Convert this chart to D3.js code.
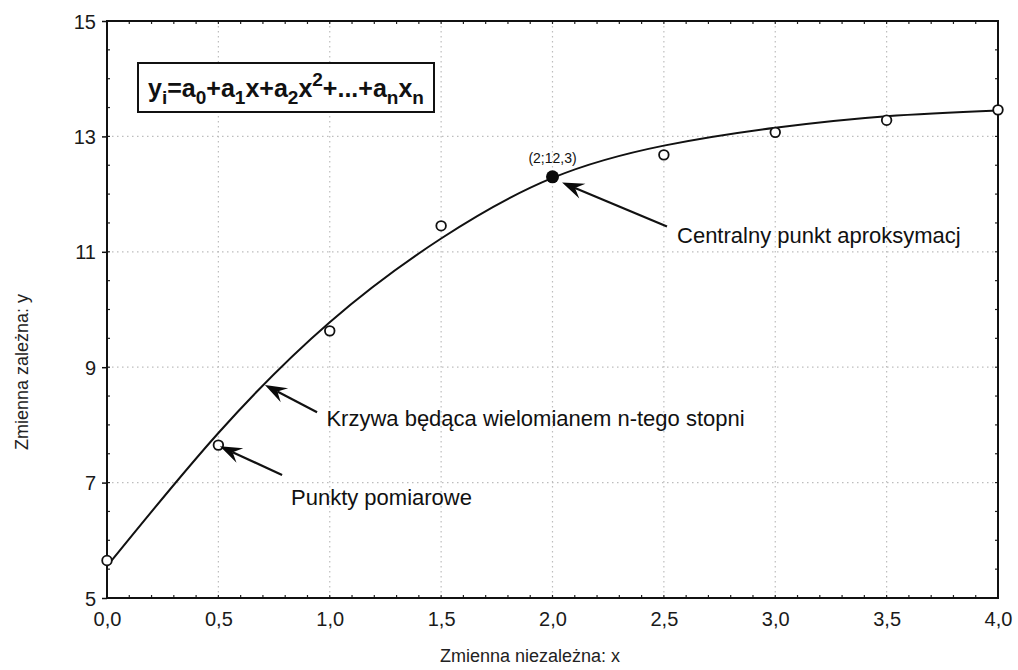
<!DOCTYPE html>
<html>
<head>
<meta charset="utf-8">
<script src="https://cdn.jsdelivr.net/npm/d3@7/dist/d3.min.js"></script>
<style>
  html, body { margin: 0; padding: 0; background: #fff; }
  svg { display: block; font-family: "Liberation Sans", Arial, sans-serif; }
</style>
</head>
<body>
<svg id="chart" width="1018" height="670"></svg>
<script>
// Fitted polynomial curve, sampled along x
const curveX = [0, 0.5, 1.0, 1.5, 2.0, 2.5, 3.0, 3.5, 4.0];
const curveY = [5.55, 7.86, 9.78, 11.23, 12.28, 12.84, 13.15, 13.35, 13.45];

// Measurement points
const pointX = [0, 0.5, 1.0, 1.5, 2.5, 3.0, 3.5, 4.0];
const pointY = [5.65, 7.65, 9.63, 11.45, 12.68, 13.07, 13.28, 13.46];

// Central approximation point
const centralX = 2;
const centralY = 12.3;
const centralLabel = "(2;12,3)";

// Axis ticks
const xTicks = [0, 0.5, 1.0, 1.5, 2.0, 2.5, 3.0, 3.5, 4.0];
const yTicks = [5, 7, 9, 11, 13, 15];
const xTitle = "Zmienna niezależna: x";
const yTitle = "Zmienna zależna: y";

// Annotations: arrow tail -> tip, and label anchor (data units)
const noteText = ["Centralny punkt aproksymacj", "Krzywa będąca wielomianem n-tego stopni", "Punkty pomiarowe"];
const noteTail = [[2.514, 11.44], [0.943, 8.22], [0.786, 7.13]];
const noteTip  = [[2.043, 12.20], [0.709, 8.69], [0.507, 7.63]];
const noteAt   = [[2.559, 11.15], [0.985, 7.98], [0.826, 6.62]];

const svg = d3.select("#chart");
const margin = { left: 107, right: 20, top: 21, bottom: 72 };
const W = 1018, H = 670;
const x = d3.scaleLinear().domain([0, 4]).range([margin.left, W - margin.right]);
const y = d3.scaleLinear().domain([5, 15]).range([H - margin.bottom, margin.top]);
const fmt = d => d3.format(".1f")(d).replace(".", ",");

// dotted grid
const grid = svg.append("g").attr("stroke", "#bdbdbd").attr("stroke-width", 1.2)
  .attr("stroke-dasharray", "1.5,3.5");
grid.selectAll("line.v").data(xTicks.slice(1, -1)).join("line")
  .attr("x1", d => x(d)).attr("x2", d => x(d)).attr("y1", y(15)).attr("y2", y(5));
grid.selectAll("line.h").data(yTicks.slice(1, -1)).join("line")
  .attr("y1", d => y(d)).attr("y2", d => y(d)).attr("x1", x(0)).attr("x2", x(4));

// axes
const xAxis = d3.axisBottom(x).tickValues(xTicks).tickFormat(fmt).tickSize(0).tickPadding(14);
const yAxis = d3.axisLeft(y).tickValues(yTicks).tickFormat(d3.format("d")).tickSize(5).tickPadding(6);
const gx = svg.append("g").attr("transform", `translate(0,${y(5)})`).call(xAxis);
const gy = svg.append("g").attr("transform", `translate(${x(0)},0)`).call(yAxis);
[gx, gy].forEach(g => {
  g.select(".domain").remove();
  g.selectAll("text").attr("font-size", 20).attr("fill", "#1a1a1a")
    .attr("font-family", "'Liberation Sans', Arial, sans-serif");
  g.selectAll("line").attr("stroke", "#111").attr("stroke-width", 1.5);
});
gy.selectAll(".tick text").attr("dy", "0.35em");

// minor ticks (inward)
const minorX = d3.range(0, 4.0001, 0.1);
const minorY = d3.range(5, 15.0001, 0.5);
const mt = svg.append("g").attr("stroke", "#222").attr("stroke-width", 1.2);
mt.selectAll("line.mb").data(minorX).join("line")
  .attr("x1", d => x(d)).attr("x2", d => x(d)).attr("y1", y(5)).attr("y2", y(5) - 3);
mt.selectAll("line.mt").data(minorX).join("line")
  .attr("x1", d => x(d)).attr("x2", d => x(d)).attr("y1", y(15)).attr("y2", y(15) + 3);
mt.selectAll("line.ml").data(minorY).join("line")
  .attr("y1", d => y(d)).attr("y2", d => y(d)).attr("x1", x(0)).attr("x2", x(0) + 3);
mt.selectAll("line.mr").data(minorY).join("line")
  .attr("y1", d => y(d)).attr("y2", d => y(d)).attr("x1", x(4)).attr("x2", x(4) - 3);

// frame
svg.append("rect").attr("x", x(0)).attr("y", y(15))
  .attr("width", x(4) - x(0)).attr("height", y(5) - y(15))
  .attr("fill", "none").attr("stroke", "#111").attr("stroke-width", 2);

// axis titles
svg.append("text").attr("x", 530).attr("y", 662).attr("text-anchor", "middle")
  .attr("font-size", 18).attr("fill", "#222").text(xTitle);
svg.append("text").attr("transform", `translate(28,${372}) rotate(-90)`)
  .attr("text-anchor", "middle").attr("font-size", 18).attr("fill", "#222").text(yTitle);

// fitted curve
const curvePts = curveX.map((d, i) => [d, curveY[i]]);
svg.append("path").datum(curvePts)
  .attr("fill", "none").attr("stroke", "#111").attr("stroke-width", 2)
  .attr("d", d3.line().x(d => x(d[0])).y(d => y(d[1])).curve(d3.curveNatural));

// measurement points
const pts = pointX.map((d, i) => [d, pointY[i]]);
svg.append("g").selectAll("circle").data(pts).join("circle")
  .attr("cx", d => x(d[0])).attr("cy", d => y(d[1])).attr("r", 4.8)
  .attr("fill", "#fff").attr("stroke", "#111").attr("stroke-width", 1.8);

// central point
svg.append("circle").attr("cx", x(centralX)).attr("cy", y(centralY)).attr("r", 6.5).attr("fill", "#0a0a0a");
svg.append("text").attr("x", x(centralX)).attr("y", y(centralY) - 14).attr("text-anchor", "middle")
  .attr("font-size", 14).attr("fill", "#111").text(centralLabel);

// annotation arrows
const arrows = svg.append("g");
noteText.forEach((t, i) => {
  const tx = x(noteTail[i][0]), ty = y(noteTail[i][1]);
  const px = x(noteTip[i][0]), py = y(noteTip[i][1]);
  const ang = Math.atan2(py - ty, px - tx);
  const ux = Math.cos(ang), uy = Math.sin(ang), nx = -uy, ny = ux;
  const L = 22, Wd = 8, notch = 14;
  const back = [px - ux * L, py - uy * L];
  arrows.append("line").attr("x1", tx).attr("y1", ty)
    .attr("x2", px - ux * notch).attr("y2", py - uy * notch)
    .attr("stroke", "#111").attr("stroke-width", 2.2);
  const head = [
    [px, py],
    [back[0] + nx * Wd, back[1] + ny * Wd],
    [px - ux * notch, py - uy * notch],
    [back[0] - nx * Wd, back[1] - ny * Wd]
  ];
  arrows.append("path").attr("d", "M" + head.map(p => p.join(",")).join("L") + "Z").attr("fill", "#0a0a0a");
  svg.append("text").attr("x", x(noteAt[i][0])).attr("y", y(noteAt[i][1]))
    .attr("font-size", 22).attr("fill", "#111").text(t);
});

// formula box
const box = svg.append("g");
box.append("rect").attr("x", 138).attr("y", 63).attr("width", 296).attr("height", 49)
  .attr("fill", "#fff").attr("stroke", "#111").attr("stroke-width", 2);
const ft = box.append("text").attr("x", 148).attr("y", 97).attr("font-size", 25)
  .attr("font-weight", "bold").attr("fill", "#111");
// [text, position]: 0 baseline, 1 subscript, -1 superscript
const parts = [
  ["y", 0], ["i", 1], ["=a", 0], ["0", 1], ["+a", 0], ["1", 1], ["x+a", 0], ["2", 1],
  ["x", 0], ["2", -1], ["+...+a", 0], ["n", 1], ["x", 0], ["n", 1]
];
const shift = { "0": 0, "1": 7, "-1": -11 };
parts.forEach(([s, k], i) => {
  const prev = i > 0 ? parts[i - 1][1] : 0;
  ft.append("tspan").text(s)
    .attr("font-size", k === 0 ? 25 : 19)
    .attr("dy", shift[k] - shift[prev]);
});
</script>
</body>
</html>
